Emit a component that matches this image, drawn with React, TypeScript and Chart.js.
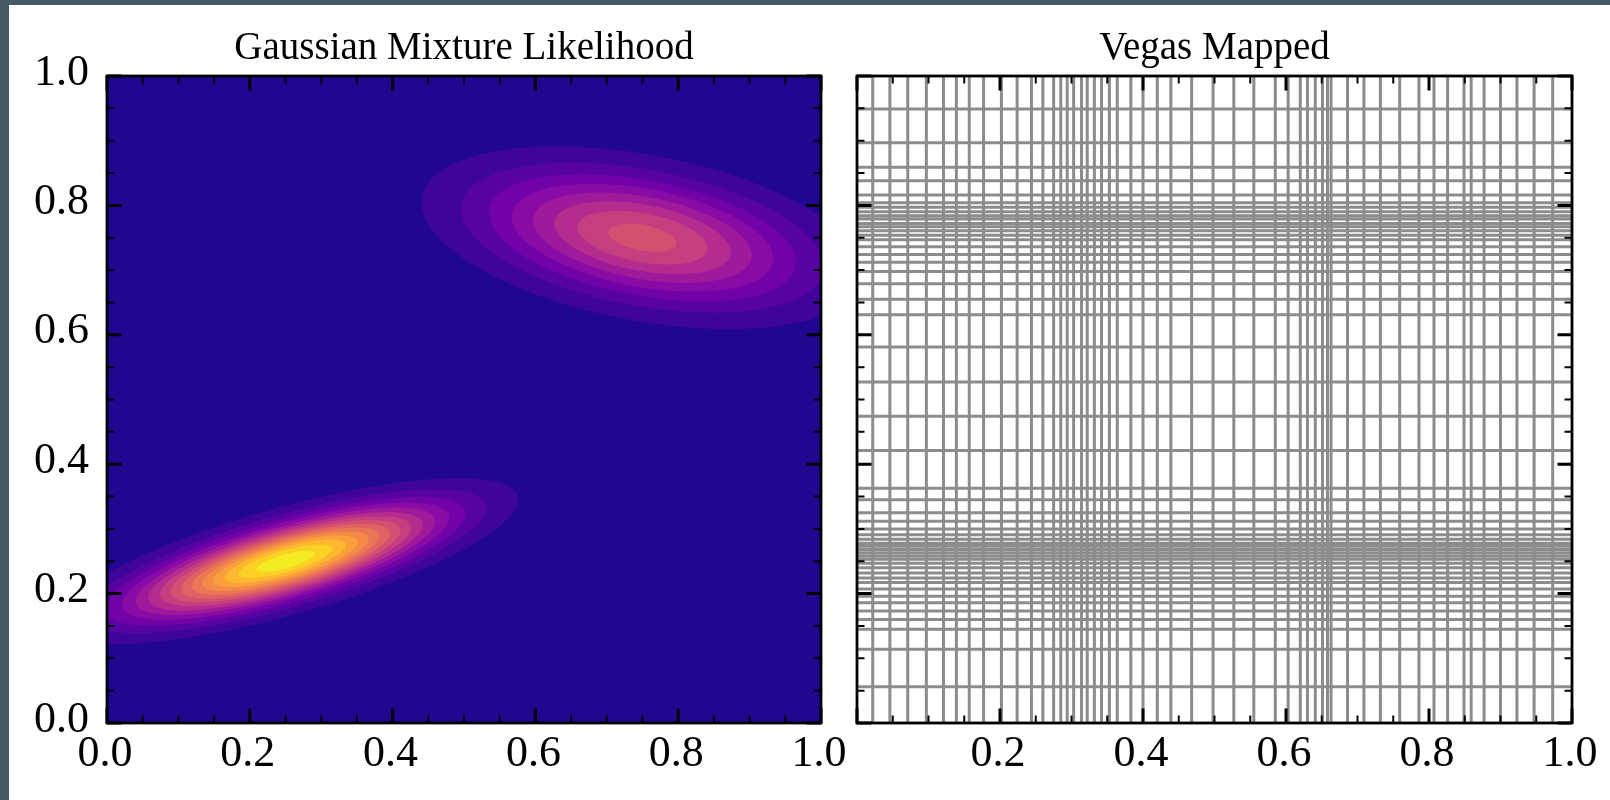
import React, { useEffect, useRef } from 'react';
import { Chart, registerables } from 'chart.js';

Chart.register(...registerables);

// ---------------- data ----------------
const MAJOR_TICKS = [0, 0.2, 0.4, 0.6, 0.8, 1.0];
const MINOR_TICKS = [0.05, 0.1, 0.15, 0.25, 0.3, 0.35, 0.45, 0.5, 0.55, 0.65, 0.7, 0.75, 0.85, 0.9, 0.95];

// Gaussian mixture components
const MIX_WEIGHTS = [0.5, 0.5];
const MIX_MEAN_X = [0.25, 0.75];
const MIX_MEAN_Y = [0.25, 0.75];
const MIX_SIGMA_X = [0.1388, 0.15];
const MIX_SIGMA_Y = [0.0548, 0.0684];
const MIX_RHO = [0.744, -0.388];
const CONTOUR_LEVELS = [0, 1, 2, 3, 4, 5, 6, 7, 8, 9, 10, 11, 12, 13, 14, 15, 16];

// VEGAS adapted grid edges
const VEGAS_X_EDGES = [
  0.022, 0.046, 0.071, 0.097, 0.121, 0.139, 0.157, 0.177, 0.202, 0.224, 0.244, 0.26, 0.275, 0.285,
  0.294, 0.303, 0.314, 0.322, 0.332, 0.342, 0.353, 0.364, 0.383, 0.4, 0.42, 0.439, 0.468, 0.498,
  0.527, 0.555, 0.585, 0.603, 0.62, 0.63, 0.641, 0.651, 0.658, 0.663, 0.686, 0.709, 0.732, 0.759,
  0.786, 0.807, 0.826, 0.849, 0.859, 0.877, 0.9, 0.923, 0.947, 0.973,
];
const VEGAS_Y_EDGES = [
  0.056, 0.114, 0.145, 0.16, 0.173, 0.186, 0.196, 0.207, 0.217, 0.224, 0.232, 0.24, 0.247, 0.253,
  0.258, 0.263, 0.268, 0.273, 0.278, 0.284, 0.291, 0.3, 0.312, 0.325, 0.345, 0.363, 0.421, 0.474,
  0.527, 0.581, 0.631, 0.655, 0.679, 0.698, 0.712, 0.724, 0.736, 0.747, 0.754, 0.761, 0.767, 0.772,
  0.779, 0.784, 0.79, 0.797, 0.804, 0.816, 0.838, 0.859, 0.897, 0.949,
];

// plasma colormap anchors (position, colour)
const PLASMA_POS = [0, 0.03125, 0.1, 0.2, 0.3, 0.4, 0.5, 0.6, 0.7, 0.8, 0.9, 1];
const PLASMA = ['#0d0887', '#21068f', '#41049d', '#6a00a8', '#8f0da4', '#b12a90', '#cc4778', '#e16462', '#f2844b', '#fca636', '#fcce25', '#f0f921'];

const FONT_FAMILY = "'Liberation Serif', 'DejaVu Serif', serif";

// ---------------- helpers ----------------
function hexToRgb(h: string) {
  return [parseInt(h.slice(1, 3), 16), parseInt(h.slice(3, 5), 16), parseInt(h.slice(5, 7), 16)];
}
const PLASMA_RGB = PLASMA.map(hexToRgb);
function plasma(t: number) {
  const tt = Math.min(Math.max(t, 0), 1);
  let i = 0;
  while (i < PLASMA_POS.length - 2 && tt > PLASMA_POS[i + 1]) i++;
  const f = (tt - PLASMA_POS[i]) / (PLASMA_POS[i + 1] - PLASMA_POS[i]);
  const a = PLASMA_RGB[i], b = PLASMA_RGB[i + 1];
  return [a[0] + (b[0] - a[0]) * f, a[1] + (b[1] - a[1]) * f, a[2] + (b[2] - a[2]) * f];
}

function mixtureDensity(x: number, y: number) {
  let f = 0;
  for (let k = 0; k < MIX_WEIGHTS.length; k++) {
    const sx = MIX_SIGMA_X[k], sy = MIX_SIGMA_Y[k], r = MIX_RHO[k];
    const dx = (x - MIX_MEAN_X[k]) / sx;
    const dy = (y - MIX_MEAN_Y[k]) / sy;
    const om = 1 - r * r;
    const q = (dx * dx - 2 * r * dx * dy + dy * dy) / om;
    f += (MIX_WEIGHTS[k] / (2 * Math.PI * sx * sy * Math.sqrt(om))) * Math.exp(-q / 2);
  }
  return f;
}

const contourPlugin = {
  id: 'contourf',
  beforeDatasetsDraw(chart: any) {
    const { ctx, chartArea: a, scales } = chart;
    const xs = scales.x, ys = scales.y;
    const w = Math.round(a.right - a.left);
    const h = Math.round(a.bottom - a.top);
    const nLayers = CONTOUR_LEVELS.length - 1;
    const colors = [];
    for (let i = 0; i < nLayers; i++) colors.push(plasma((i + 0.5) / nLayers));
    const off = document.createElement('canvas');
    off.width = w;
    off.height = h;
    const octx = off.getContext('2d')!;
    const img = octx.createImageData(w, h);
    const SS = 2;
    const layerOf = (f: number) => {
      let i = 0;
      while (i < nLayers - 1 && f >= CONTOUR_LEVELS[i + 1]) i++;
      return i;
    };
    for (let py = 0; py < h; py++) {
      for (let px = 0; px < w; px++) {
        let r = 0, g = 0, b = 0;
        for (let sy = 0; sy < SS; sy++) {
          const yv = ys.getValueForPixel(a.top + py + (sy + 0.5) / SS);
          for (let sx = 0; sx < SS; sx++) {
            const xv = xs.getValueForPixel(a.left + px + (sx + 0.5) / SS);
            const c = colors[layerOf(mixtureDensity(xv, yv))];
            r += c[0]; g += c[1]; b += c[2];
          }
        }
        const idx = (py * w + px) * 4;
        const n = SS * SS;
        img.data[idx] = r / n;
        img.data[idx + 1] = g / n;
        img.data[idx + 2] = b / n;
        img.data[idx + 3] = 255;
      }
    }
    octx.putImageData(img, 0, 0);
    ctx.drawImage(off, a.left, a.top);
  },
};

const frameTicksPlugin = {
  id: 'frameTicks',
  afterDraw(chart: any) {
    const { ctx, chartArea: a, scales } = chart;
    const xs = scales.x, ys = scales.y;
    ctx.save();
    ctx.strokeStyle = '#000';
    const draw = (vals: number[], len: number, lw: number) => {
      ctx.lineWidth = lw;
      ctx.beginPath();
      for (const v of vals) {
        const px = xs.getPixelForValue(v);
        ctx.moveTo(px, a.bottom); ctx.lineTo(px, a.bottom - len);
        ctx.moveTo(px, a.top); ctx.lineTo(px, a.top + len);
        const py = ys.getPixelForValue(v);
        ctx.moveTo(a.left, py); ctx.lineTo(a.left + len, py);
        ctx.moveTo(a.right, py); ctx.lineTo(a.right - len, py);
      }
      ctx.stroke();
    };
    draw(MINOR_TICKS, 7.5, 2);
    draw(MAJOR_TICKS, 14.5, 3);
    ctx.lineWidth = 2.8;
    ctx.strokeRect(a.left, a.top, a.right - a.left, a.bottom - a.top);
    ctx.restore();
  },
};

function axisCommon(showLabels: boolean, isX: boolean, hideZero: boolean, size: number) {
  return {
    type: 'linear',
    min: 0,
    max: 1,
    display: true,
    afterBuildTicks: (s: any) => {
      s.ticks = MAJOR_TICKS.map((v) => ({ value: v }));
    },
    grid: { display: false, drawTicks: false },
    border: { display: false },
    ticks: {
      display: showLabels,
      color: '#000',
      font: { family: FONT_FAMILY, size: 44 },
      padding: isX ? 5 : 18,
      labelOffset: isX ? -2 : -3,
      autoSkip: false,
      maxRotation: 0,
      callback: (v: any) => (hideZero && v === 0 ? '' : Number(v).toFixed(1)),
    },
    afterFit: (s: any) => {
      if (isX) s.height = size;
      else s.width = size;
      s.paddingLeft = 0;
      s.paddingRight = 0;
      s.paddingTop = 0;
      s.paddingBottom = 0;
    },
  };
}

function titleOpts(text: string) {
  return {
    display: true,
    fullSize: false,
    text,
    color: '#000',
    font: { family: FONT_FAMILY, size: 39, weight: 'normal' },
    padding: { top: 3, bottom: 4.2 },
  };
}

function makeLineData(edges: number[], vertical: boolean) {
  const pts: any[] = [];
  edges.forEach((e) => {
    if (vertical) {
      pts.push({ x: e, y: 0 }, { x: e, y: 1 }, { x: e, y: null });
    } else {
      pts.push({ x: 0, y: e }, { x: 1, y: e }, { x: 1, y: null });
    }
  });
  return pts;
}

export default function App() {
  const leftRef = useRef<HTMLCanvasElement>(null);
  const rightRef = useRef<HTMLCanvasElement>(null);

  useEffect(() => {
    const left = new Chart(leftRef.current!, {
      type: 'scatter',
      data: { datasets: [] },
      options: {
        animation: false,
        responsive: false,
        devicePixelRatio: 1,
        layout: { padding: { left: 0, right: 29, top: 22, bottom: 0 } },
        plugins: { legend: { display: false }, tooltip: { enabled: false }, title: titleOpts('Gaussian Mixture Likelihood') as any },
        scales: { x: axisCommon(true, true, false, 77) as any, y: axisCommon(true, false, false, 107) as any },
      },
      plugins: [contourPlugin, frameTicksPlugin],
    });

    const right = new Chart(rightRef.current!, {
      type: 'line',
      data: {
        datasets: [
          {
            label: 'x edges',
            data: makeLineData(VEGAS_X_EDGES, true),
            borderColor: '#8c8c8c',
            borderWidth: 3,
            pointRadius: 0,
            spanGaps: false,
            clip: 0,
          } as any,
          {
            label: 'y edges',
            data: makeLineData(VEGAS_Y_EDGES, false),
            borderColor: '#8c8c8c',
            borderWidth: 3,
            pointRadius: 0,
            spanGaps: false,
            clip: 0,
          } as any,
        ],
      },
      options: {
        animation: false,
        responsive: false,
        devicePixelRatio: 1,
        layout: { padding: { left: 27, right: 38, top: 22, bottom: 0 } },
        plugins: { legend: { display: false }, tooltip: { enabled: false }, title: titleOpts('Vegas Mapped') as any },
        scales: {
          x: axisCommon(true, true, true, 77) as any,
          y: { ...(axisCommon(false, false, false, 0) as any), display: false },
        },
      },
      plugins: [frameTicksPlugin],
    });

    return () => {
      left.destroy();
      right.destroy();
    };
  }, []);

  return (
    <div style={{ position: 'fixed', left: 0, top: 0, width: 1610, height: 800, background: '#455a64', overflow: 'hidden' }}>
      <div style={{ position: 'absolute', left: 9, top: 5, width: 1601, height: 795, background: '#ffffff' }} />
      <canvas ref={leftRef} width={850} height={800} style={{ position: 'absolute', left: 0, top: 0, width: 850, height: 800 }} />
      <canvas ref={rightRef} width={780} height={800} style={{ position: 'absolute', left: 830, top: 0, width: 780, height: 800 }} />
    </div>
  );
}
